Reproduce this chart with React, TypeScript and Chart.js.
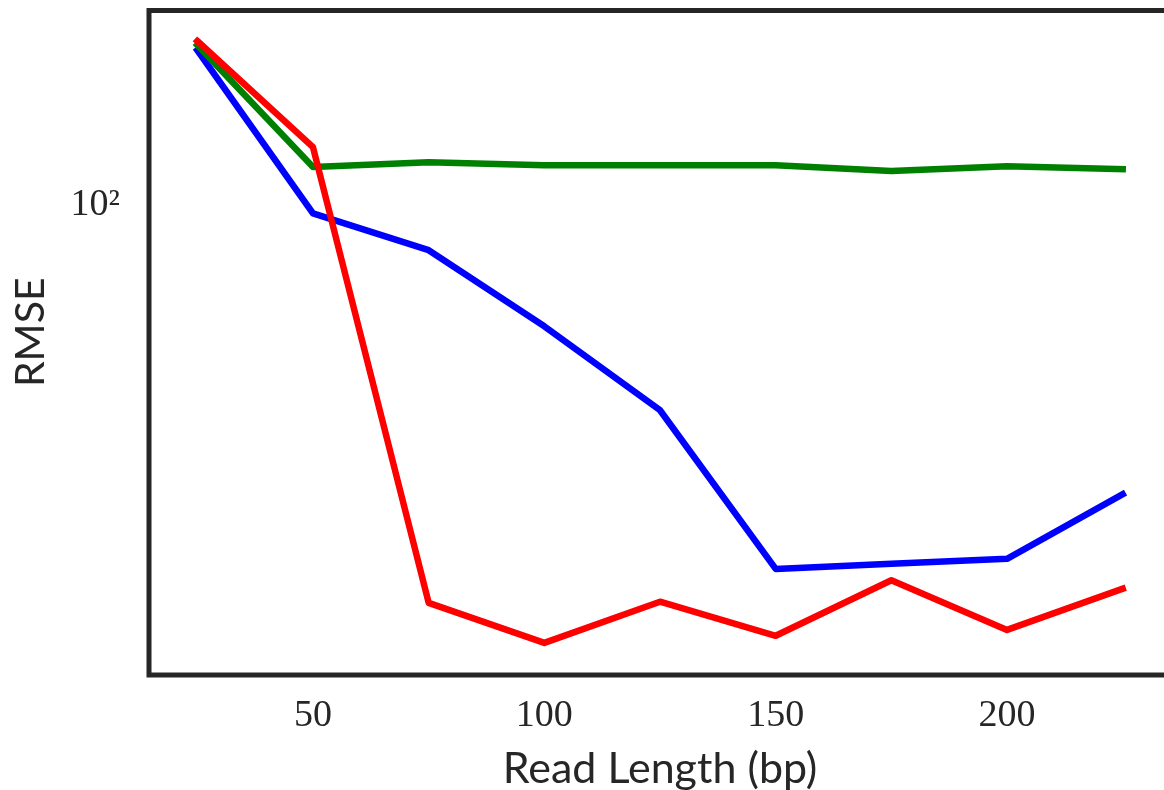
import React, { useEffect, useRef } from "react";
import { Chart, registerables } from "chart.js";

Chart.register(...registerables);

// Data
const readLengths = [25, 50, 75, 100, 125, 150, 175, 200, 225];
const redValues = [141.0, 112.9, 43.5, 40.0, 43.6, 40.6, 45.6, 41.1, 44.8];
const greenValues = [139.8, 108.3, 109.4, 108.7, 108.7, 108.7, 107.4, 108.5, 107.8];
const blueValues = [138.3, 98.3, 91.0, 77.6, 65.1, 46.7, 47.2, 47.7, 54.6];
const xTicks = [50, 100, 150, 200];
const yTicks = [100];
const yTickLabels = ["10²"];

const toPoints = (vals: number[]) => readLengths.map((x, i) => ({ x, y: vals[i] }));

const framePlugin = {
  id: "frame",
  afterDatasetsDraw(chart: any) {
    const { ctx, chartArea } = chart;
    const { left, top, right, bottom } = chartArea;
    ctx.save();
    ctx.strokeStyle = "#262626";
    ctx.lineWidth = 5;
    ctx.strokeRect(left, top, right - left, bottom - top);
    ctx.restore();
  },
};

export default function App() {
  const ref = useRef<HTMLCanvasElement | null>(null);

  useEffect(() => {
    if (!ref.current) return;
    const lineStyle = {
      borderWidth: 6.5,
      pointRadius: 0,
      pointHoverRadius: 0,
      tension: 0,
      fill: false,
      borderCapStyle: "square" as const,
      borderJoinStyle: "round" as const,
    };
    const chart = new Chart(ref.current, {
      type: "line",
      data: {
        datasets: [
          { label: "red", data: toPoints(redValues), borderColor: "#ff0000", backgroundColor: "#ff0000", ...lineStyle },
          { label: "green", data: toPoints(greenValues), borderColor: "#008000", backgroundColor: "#008000", ...lineStyle },
          { label: "blue", data: toPoints(blueValues), borderColor: "#0000ff", backgroundColor: "#0000ff", ...lineStyle },
        ],
      },
      options: {
        animation: false,
        responsive: false,
        devicePixelRatio: 1,
        layout: { padding: { left: 0, top: 10.5, right: 19, bottom: 0 } },
        plugins: { legend: { display: false }, tooltip: { enabled: false } },
        scales: {
          x: {
            type: "linear",
            min: 14.56,
            max: 235.44,
            grid: { display: false, drawTicks: false },
            border: { display: false },
            afterBuildTicks: (scale: any) => {
              scale.ticks = xTicks.map((v) => ({ value: v }));
            },
            afterFit: (scale: any) => {
              scale.height = 115;
              scale.paddingLeft = 0;
              scale.paddingRight = 0;
            },
            ticks: {
              padding: 18,
              color: "#262626",
              font: { family: "Liberation Serif", size: 38 },
              maxRotation: 0,
              autoSkip: false,
              callback: (v: any) => String(v),
            },
            title: {
              display: true,
              text: "Read Length (bp)",
              color: "#262626",
              font: { family: "Lato", size: 43 },
              padding: { top: 0, bottom: -5 },
            },
          },
          y: {
            type: "logarithmic",
            min: 37.4,
            max: 150.3,
            grid: { display: false, drawTicks: false },
            border: { display: false },
            afterBuildTicks: (scale: any) => {
              scale.ticks = yTicks.map((v) => ({ value: v }));
            },
            afterFit: (scale: any) => {
              scale.width = 149;
              scale.paddingTop = 0;
              scale.paddingBottom = 0;
            },
            ticks: {
              padding: 29,
              color: "#262626",
              font: { family: "Liberation Serif", size: 38 },
              autoSkip: false,
              callback: (v: any) => {
                const i = yTicks.indexOf(Number(v));
                return i >= 0 ? yTickLabels[i] : null;
              },
            },
            title: {
              display: true,
              text: "  RMSE",
              color: "#262626",
              font: { family: "Lato", size: 41 },
              padding: { top: 6, bottom: 0 },
            },
          },
        },
      },
      plugins: [framePlugin],
    });
    return () => chart.destroy();
  }, []);

  return (
    <div
      style={{
        position: "fixed",
        left: 0,
        top: 0,
        width: 1164,
        height: 790,
        overflow: "hidden",
        background: "#ffffff",
      }}
    >
      <canvas ref={ref} width={1190} height={790} style={{ display: "block" }} />
    </div>
  );
}
